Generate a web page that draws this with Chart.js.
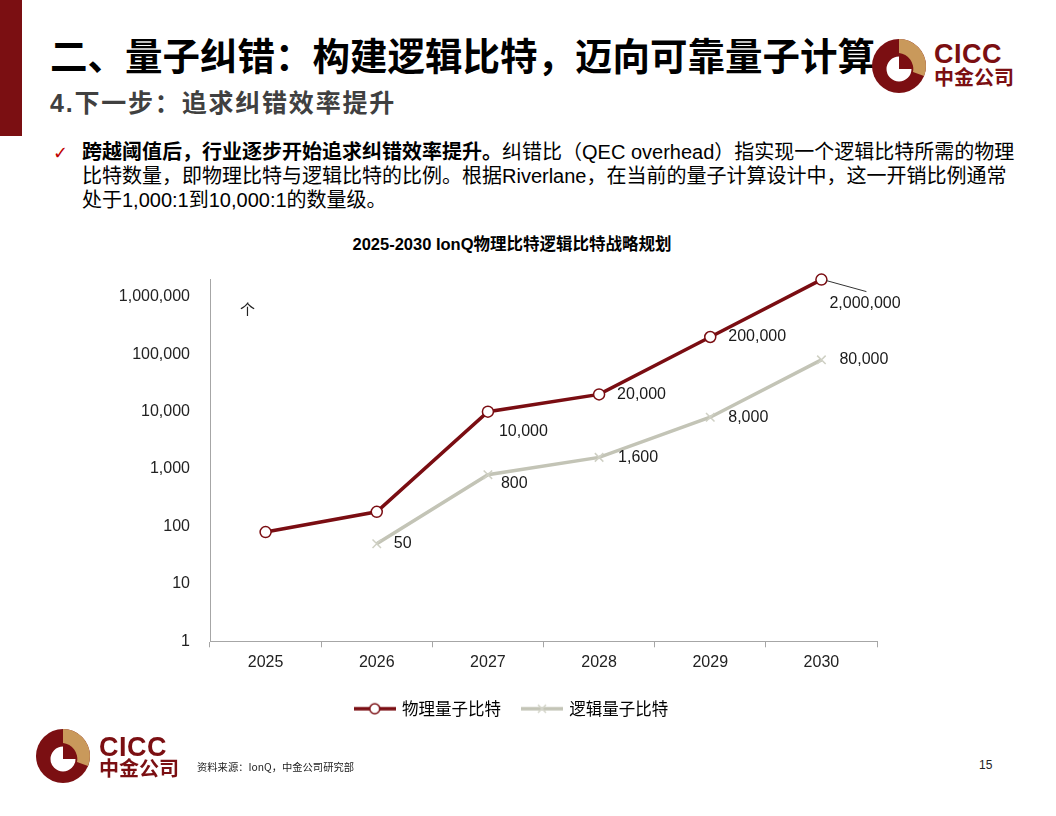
<!DOCTYPE html>
<html>
<head>
<meta charset="utf-8">
<script src="https://cdn.jsdelivr.net/npm/chart.js@4.4.1/dist/chart.umd.min.js"></script>
<style>
  body { margin: 0; background: #fff; }
  #page { position: relative; width: 1056px; height: 816px; overflow: hidden;
          font-family: "Liberation Sans", "Noto Sans CJK SC", sans-serif; color: #000; }
  .abs { position: absolute; white-space: nowrap; }
  #bar { left: 0; top: 0; width: 22px; height: 136px; background: #7B0F12; }
  #title { left: 50px; top: 35px; font: bold 37.5px/1 "Noto Sans CJK SC", sans-serif; color: #000; }
  #subtitle { left: 50px; top: 89px; font: bold 25px/1 "Noto Sans CJK SC", sans-serif; color: #404040; letter-spacing: 1.8px; }
  #subtitle b { font-family: "Liberation Sans"; }
  #check { left: 53px; top: 141px; font: 18px/24px "DejaVu Sans", sans-serif; color: #C00000; }
  #para { left: 82px; top: 140px; font: 20px/24px "Liberation Sans", "Noto Sans CJK SC", sans-serif; color: #000; }
  #para b { font-weight: bold; }
  #ctitle { left: 0; width: 1024px; top: 236px; text-align: center; font: bold 16.5px/1 "Liberation Sans", "Noto Sans CJK SC", sans-serif; color: #000; }
  #unit { left: 240px; top: 301px; font: 15px/1 "Noto Sans CJK SC", sans-serif; color: #222; }
  #chartBox { left: 100px; top: 250px; width: 800px; height: 483px; }
  .logoTxt1 { font: bold 27px/1 "Liberation Sans", sans-serif; color: #7B0F12; letter-spacing: 0.5px; }
  .logoTxt2 { font: bold 20px/1 "Noto Sans CJK SC", sans-serif; color: #7B0F12; }
  #source { left: 197px; top: 762px; font: 10.3px/1 "Noto Sans CJK SC", sans-serif; color: #222; }
  #pageNo { left: 979px; top: 759px; font: 12px/1 "Liberation Sans", sans-serif; color: #222; }
</style>
</head>
<body>
<div id="page">
  <div id="bar" class="abs"></div>
  <div id="title" class="abs">二、量子纠错：构建逻辑比特，迈向可靠量子计算</div>
  <div id="subtitle" class="abs"><b>4.</b>下一步：追求纠错效率提升</div>

  <svg class="abs" style="left:870px;top:37px" width="58" height="58" viewBox="-29 -29 58 58">
    <circle r="27" fill="#7B0F12"/>
    <path d="M0,-27 A27,27 0 0,1 25,10 L14,6 A16,16 0 0,0 0,-13 Z" fill="#C9995B"/>
    <path d="M0,3 L0,-9.5 A12.5,12.5 0 1,0 12.5,3 Z" fill="#fff"/>
  </svg>
  <div class="abs logoTxt1" style="left:934px;top:41px">CICC</div>
  <div class="abs logoTxt2" style="left:934px;top:67px">中金公司</div>

  <div id="check" class="abs">✓</div>
  <div id="para" class="abs"><b>跨越阈值后，行业逐步开始追求纠错效率提升。</b>纠错比（QEC overhead）指实现一个逻辑比特所需的物理<br>比特数量，即物理比特与逻辑比特的比例。根据Riverlane，在当前的量子计算设计中，这一开销比例通常<br>处于1,000:1到10,000:1的数量级。</div>

  <div id="ctitle" class="abs">2025-2030 IonQ物理比特逻辑比特战略规划</div>
  <div id="chartBox" class="abs"><canvas id="qubitChart"></canvas></div>
  <div id="unit" class="abs">个</div>

  <svg class="abs" style="left:34px;top:727px" width="58" height="58" viewBox="-29 -29 58 58">
    <circle r="27" fill="#7B0F12"/>
    <path d="M0,-27 A27,27 0 0,1 25,10 L14,6 A16,16 0 0,0 0,-13 Z" fill="#C9995B"/>
    <path d="M0,3 L0,-9.5 A12.5,12.5 0 1,0 12.5,3 Z" fill="#fff"/>
  </svg>
  <div class="abs logoTxt1" style="left:99px;top:734px">CICC</div>
  <div class="abs logoTxt2" style="left:99px;top:758px">中金公司</div>
  <div id="source" class="abs">资料来源：IonQ，中金公司研究部</div>
  <div id="pageNo" class="abs">15</div>
</div>

<script>
// chart data
var years = ["2025", "2026", "2027", "2028", "2029", "2030"];
var physicalQubits = [80, 180, 10000, 20000, 200000, 2000000];
var logicalQubits = [null, 50, 800, 1600, 8000, 80000];
var seriesNames = ["物理量子比特", "逻辑量子比特"];
var yTicks = [1, 10, 100, 1000, 10000, 100000, 1000000];

// where each value label sits relative to its point (null = no label)
var physLabelOffset = [null, null, [11, 20], [18, 0], [18, 0], [8, 24]];
var logiLabelOffset = [null, [17, 0], [13, 9], [19, 0], [18, 0], [18, 0]];

var red = "#7A0D12";
var grey = "#C3C4B6";
var axisGrey = "#A6A6A6";

function fmt(v) {
  return Number(v).toLocaleString("en-US");
}

// small canvas used as legend icon: line with its marker
function legendIcon(color, marker) {
  var c = document.createElement("canvas");
  c.width = 42; c.height = 14;
  var g = c.getContext("2d");
  g.strokeStyle = color;
  g.lineWidth = 3.5;
  g.beginPath(); g.moveTo(0, 7); g.lineTo(42, 7); g.stroke();
  if (marker === "circle") {
    g.fillStyle = "#fff";
    g.lineWidth = 1.5;
    g.beginPath(); g.arc(21, 7, 5, 0, Math.PI * 2); g.fill(); g.stroke();
  } else {
    g.strokeStyle = "#D4D5CA";
    g.lineWidth = 1.5;
    g.beginPath();
    g.moveTo(17, 3); g.lineTo(25, 11);
    g.moveTo(25, 3); g.lineTo(17, 11);
    g.stroke();
  }
  return c;
}

// draws the value labels next to the points
var valueLabels = {
  id: "valueLabels",
  afterDatasetsDraw: function(chart) {
    var ctx = chart.ctx;
    var offsets = [physLabelOffset, logiLabelOffset];
    ctx.save();
    ctx.font = "16px 'Liberation Sans', sans-serif";
    ctx.fillStyle = "#1a1a1a";
    ctx.textAlign = "left";
    ctx.textBaseline = "middle";
    chart.data.datasets.forEach(function(ds, di) {
      var meta = chart.getDatasetMeta(di);
      meta.data.forEach(function(pt, i) {
        var off = offsets[di][i];
        if (!off || ds.data[i] == null) return;
        ctx.fillText(fmt(ds.data[i]), pt.x + off[0], pt.y + off[1]);
        if (di === 0 && i === ds.data.length - 1) {
          // leader line for the last label
          ctx.strokeStyle = "#333";
          ctx.lineWidth = 1;
          ctx.beginPath();
          ctx.moveTo(pt.x + 5, pt.y + 1);
          ctx.lineTo(pt.x + 45, pt.y + 12);
          ctx.stroke();
        }
      });
    });
    ctx.restore();
  }
};

// centre the legend under the page rather than under the padded box
var legendShift = {
  id: "legendShift",
  afterLayout: function(chart) {
    if (chart.legend) {
      chart.legend.left += 23.5;
      chart.legend.right += 23.5;
    }
  }
};

var ctx = document.getElementById("qubitChart").getContext("2d");
var icons = [legendIcon(red, "circle"), legendIcon(grey, "cross")];

var qubitChart = new Chart(ctx, {
  type: "line",
  data: {
    labels: years,
    datasets: [
      {
        label: seriesNames[0],
        data: physicalQubits,
        borderColor: red,
        borderWidth: 3.5,
        pointStyle: "circle",
        pointRadius: 5.5,
        pointBorderWidth: 1.5,
        pointBackgroundColor: "#fff",
        pointBorderColor: red,
        clip: false
      },
      {
        label: seriesNames[1],
        data: logicalQubits,
        borderColor: grey,
        borderWidth: 3.5,
        pointStyle: "crossRot",
        pointRadius: 6,
        pointBorderWidth: 1.5,
        pointBorderColor: "#CFD0C4",
        clip: false
      }
    ]
  },
  options: {
    responsive: true,
    maintainAspectRatio: false,
    animation: false,
    layout: { padding: { top: 20, right: 23, bottom: 6, left: 0 } },
    scales: {
      x: {
        type: "category",
        offset: true,
        grid: { offset: true, drawOnChartArea: false, drawTicks: true, tickLength: 6, color: axisGrey },
        border: { display: true, color: axisGrey, width: 1 },
        ticks: { padding: 6, color: "#222", font: { size: 16, family: "'Liberation Sans', sans-serif" } }
      },
      y: {
        type: "logarithmic",
        min: 1,
        max: 2000000,
        grid: { drawOnChartArea: false, drawTicks: false },
        border: { display: true, color: axisGrey, width: 1 },
        afterBuildTicks: function(scale) {
          scale.ticks = yTicks.map(function(v) { return { value: v }; });
        },
        afterFit: function(scale) { scale.width = 110; },
        ticks: {
          padding: 20,
          color: "#222",
          font: { size: 16, family: "'Liberation Sans', sans-serif" },
          callback: function(v) { return fmt(v); }
        }
      }
    },
    plugins: {
      tooltip: { enabled: false },
      legend: {
        position: "bottom",
        labels: {
          usePointStyle: true,
          pointStyleWidth: 38,
          padding: 22,
          color: "#222",
          font: { size: 16.5, family: "'Noto Sans CJK SC', sans-serif" },
          generateLabels: function(chart) {
            return chart.data.datasets.map(function(ds, i) {
              return {
                text: ds.label,
                pointStyle: icons[i],
                fillStyle: ds.borderColor,
                strokeStyle: ds.borderColor,
                lineWidth: 0,
                datasetIndex: i
              };
            });
          }
        }
      }
    }
  },
  plugins: [valueLabels, legendShift]
});
</script>
</body>
</html>
